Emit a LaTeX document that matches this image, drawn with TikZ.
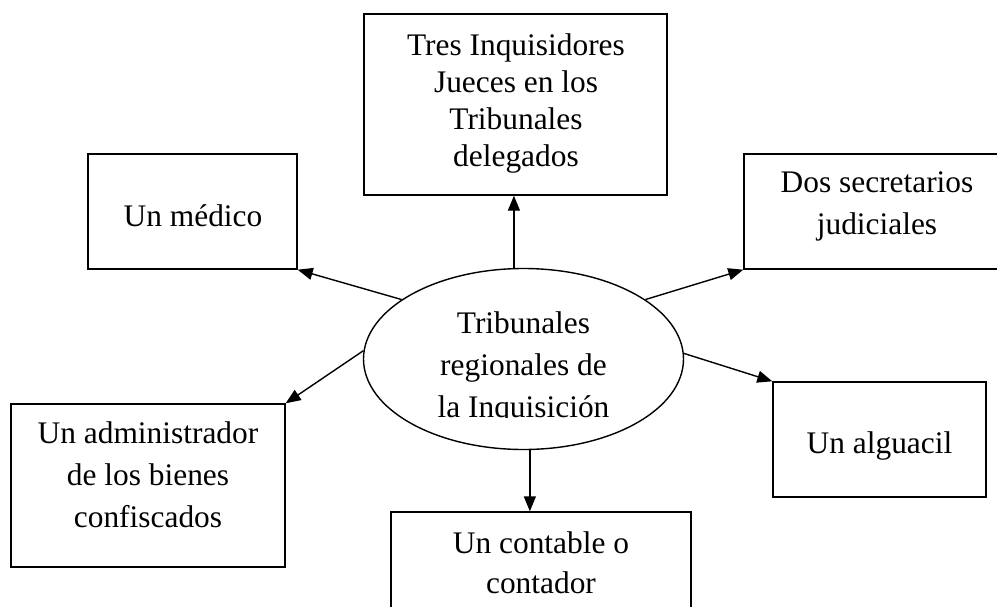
\documentclass[tikz,border=0pt]{standalone}
\usepackage{fontspec}
\setmainfont{Liberation Serif}
\usetikzlibrary{arrows.meta,shapes.geometric}
\tikzset{
  boxshape/.style={draw, rectangle, inner sep=0pt, line width=1.4pt},
  ellshape/.style={draw, ellipse, inner sep=0pt, line width=1.4pt},
  txt/.style={inner sep=0pt, anchor=north, align=center, font=\fontsize{31.4}{42}\selectfont},
  arr/.style={line width=1.4pt, -{Triangle[length=15pt,width=12pt]}}
}
\begin{document}
\begin{tikzpicture}[x=1pt,y=-1pt]
\clip (0,0) rectangle (997,606);
\fill[white] (0,0) rectangle (997,606);
% boxes
\node[boxshape, minimum width=303pt, minimum height=181pt] (top) at (515.5,104.5) {};
\node[boxshape, minimum width=209pt, minimum height=115pt] (med) at (192.5,211.5) {};
\node[boxshape, minimum width=266pt, minimum height=115pt] (sec) at (877,211.5) {};
\node[boxshape, minimum width=213pt, minimum height=115pt] (alg) at (879.5,439.5) {};
\node[boxshape, minimum width=274pt, minimum height=163pt] (adm) at (148,485.5) {};
\node[boxshape, minimum width=300pt, minimum height=140pt] (cont) at (541,582) {};
\node[ellshape, minimum width=320pt, minimum height=181pt] (e) at (523.5,359) {};
% texts
\node[txt, font=\fontsize{31.4}{37}\selectfont] (ttop) at (516,33.6) {Tres Inquisidores\\Jueces en los\\Tribunales\\delegados};
\node[txt] (tmed) at (193,204.6) {Un médico};
\node[txt] (tsec) at (877,171.6) {Dos secretarios\\judiciales};
\node[txt] (talg) at (879.5,431.6) {Un alguacil};
\node[txt] (tadm) at (148,421.6) {Un administrador\\de los bienes\\confiscados};
\node[txt, font=\fontsize{31.4}{40}\selectfont] (tcont) at (541,531.6) {Un contable o\\contador};
\begin{scope}
\clip (0,0) rectangle (997,417.5);
\node[txt] (te) at (523.5,311.6) {Tribunales\\regionales de\\la Inquisición};
\end{scope}
% connectors
\draw[arr] (e.154) -- (med.south east);
\draw[arr] (e.177.5) -- (adm.north east);
\draw[arr] (e.26) -- (sec.south west);
\draw[arr] (e.2) -- (alg.north west);
\draw[arr] (e.96) -- (e.96 |- top.south);
\draw[arr] (e.-86) -- (e.-86 |- cont.north);
\end{tikzpicture}
\end{document}
